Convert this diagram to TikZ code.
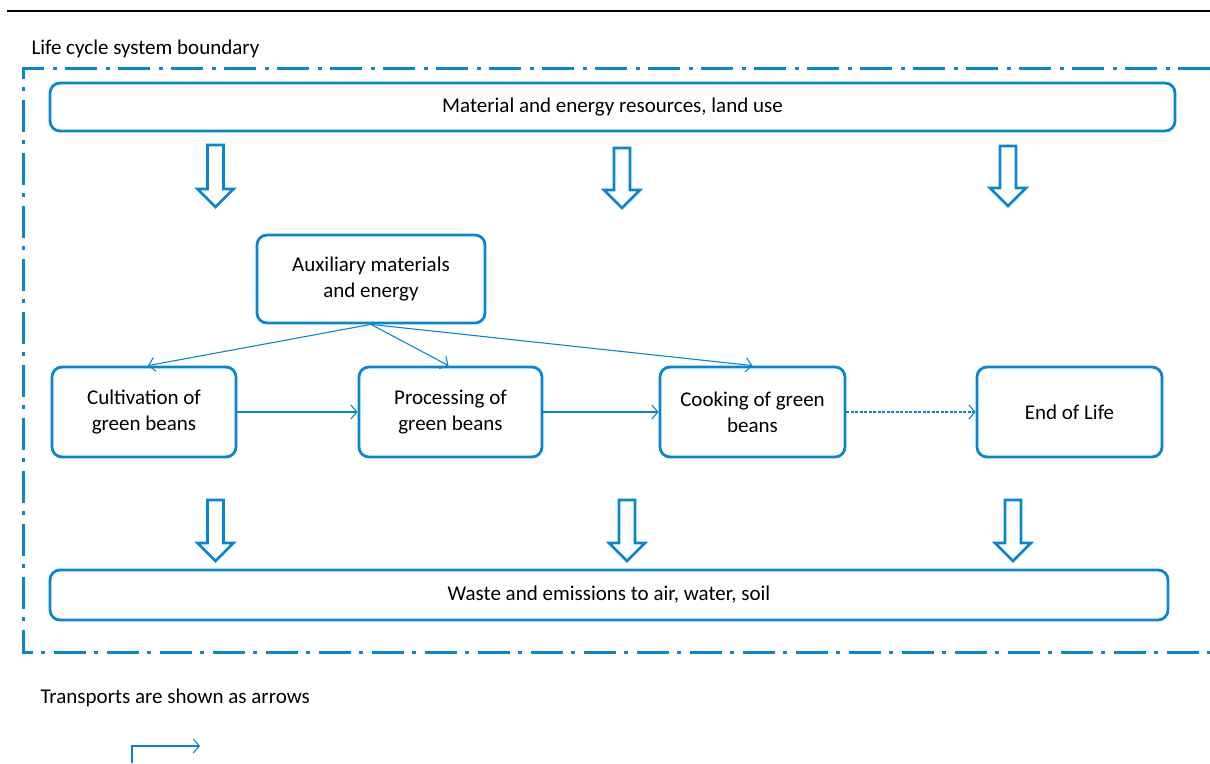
\documentclass[tikz,border=0pt]{standalone}
\usepackage{fontspec}
\setmainfont{Carlito}
\usetikzlibrary{arrows.meta}
\definecolor{lcablue}{RGB}{8,134,208}
\tikzset{
  stage/.style={draw=lcablue, line width=2.8pt, rounded corners=10pt, align=center,
    inner sep=0pt, font=\fontsize{21}{26}\selectfont},
  flow/.style={draw=lcablue, line width=1.1pt, -{Straight Barb[length=6pt,width=14pt]}},
  hollow/.style={draw=lcablue, line width=2.6pt, line join=miter},
  boundary/.style={draw=lcablue, line width=3pt, dash pattern=on 32pt off 8pt on 4pt off 9pt}
}
\newcommand{\blockarrow}[3]{%
  \draw[hollow] (#1-8,#2) -- (#1+8,#2) -- (#1+8,#3-18) -- (#1+18,#3-18) -- (#1,#3)
    -- (#1-18,#3-18) -- (#1-8,#3-18) -- cycle;}

\begin{document}
\begin{tikzpicture}[x=1pt,y=-1pt]
\useasboundingbox (0,0) rectangle (1210,763);

\draw[line width=2pt] (7,11) -- (1210,11);
\node[anchor=base west, font=\fontsize{21}{26}\selectfont] (sysb) at (28,54) {Life cycle system boundary};
\draw[boundary] (1210,68) -- (23,68) -- (23,652) -- (1210,652);

\node[stage, minimum width=1125pt, minimum height=48pt] (res) at (612.5,107) {Material and energy resources, land use};
\node[stage, minimum width=228pt, minimum height=88pt] (aux) at (371,279) {Auxiliary materials\\and energy};

\node[stage, minimum width=184pt, minimum height=90pt] (cult) at (144,412) {Cultivation of\\green beans};
\node[stage, minimum width=183pt, minimum height=90pt] (proc) at (450.5,412) {Processing of\\green beans};
\node[stage, minimum width=185pt, minimum height=90pt] (cook) at (752.5,412) {Cooking of green\\beans};
\node[stage, minimum width=185pt, minimum height=90pt] (eol) at (1069.5,412) {End of Life};

\node[stage, minimum width=1118pt, minimum height=50pt] (waste) at (609,595) {Waste and emissions to air, water, soil};

\blockarrow{215.5}{145}{207}
\blockarrow{622}{148}{208}
\blockarrow{1008}{146}{206}
\blockarrow{215.5}{500}{561}
\blockarrow{627}{500}{561}
\blockarrow{1013}{500}{561}

\draw[flow] (aux.south) -- ([xshift=4pt]cult.north);
\draw[flow] (aux.south) -- ([xshift=-2pt]proc.north);
\draw[flow] (aux.south) -- (cook.north);

\draw[flow] (cult.east) -- (proc.west);
\draw[flow] (proc.east) -- (cook.west);
\draw[flow, dash pattern=on 3pt off 1.5pt] (cook.east) -- (eol.west);

\node[anchor=base west, font=\fontsize{21}{26}\selectfont] (trans) at (37,703) {Transports are shown as arrows};
\coordinate (lgfoot) at (132,763);
\coordinate (lgknee) at (132,746);
\coordinate (lgtip) at (200,746);
\draw[flow] (lgfoot) -- (lgknee) -- (lgtip);

\end{tikzpicture}
\end{document}
